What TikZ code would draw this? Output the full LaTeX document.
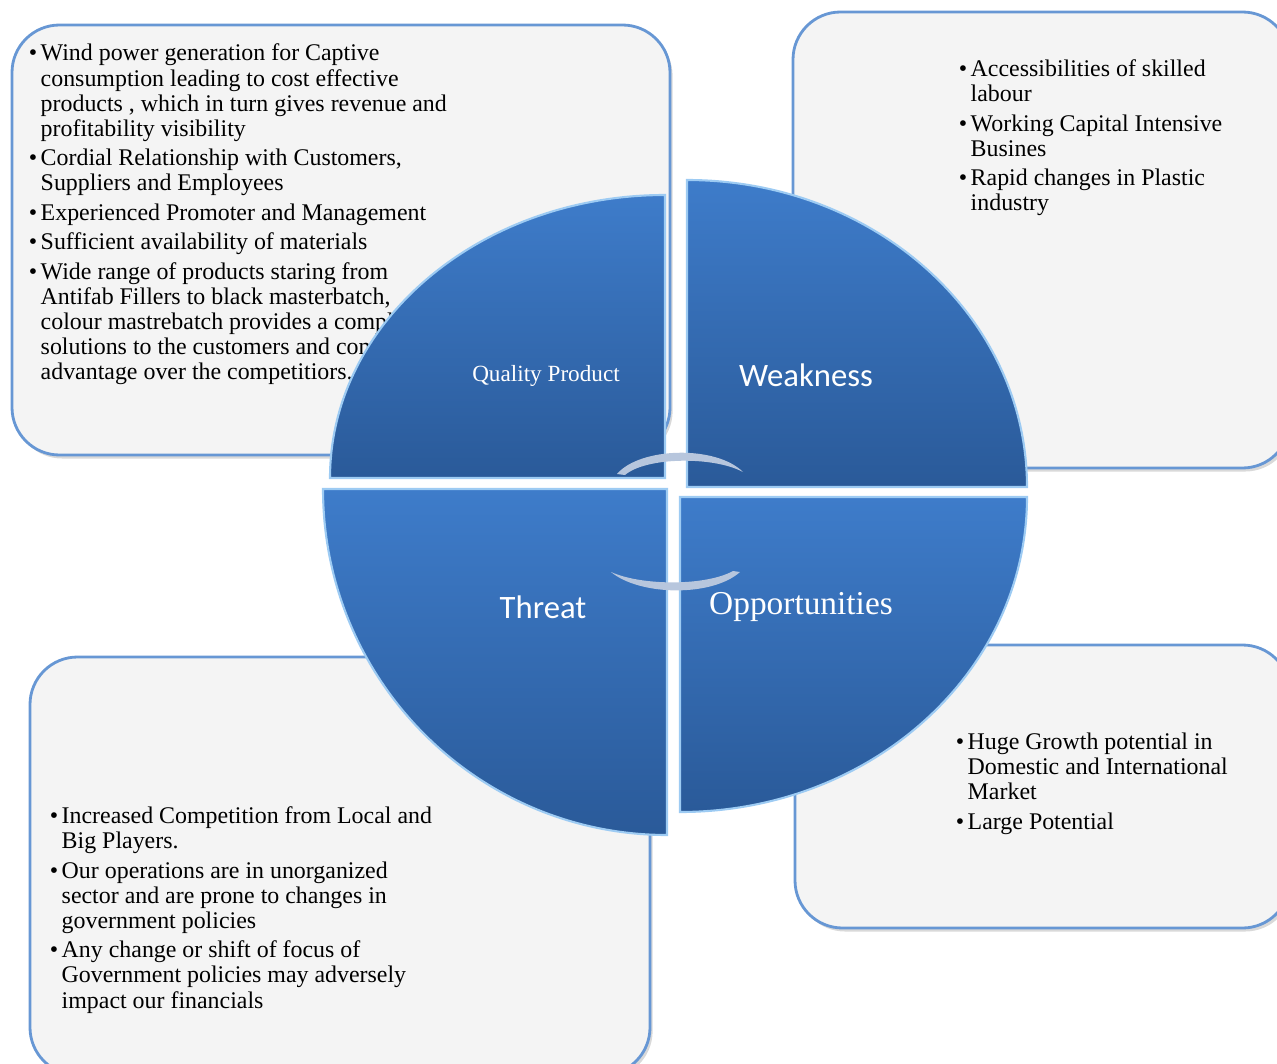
\documentclass[tikz,border=0pt]{standalone}
\usepackage{fontspec}
\setmainfont{Liberation Serif}
\newfontfamily\labelsans{Carlito}
\usetikzlibrary{shadows}

\definecolor{boxfill}{HTML}{F4F4F4}
\definecolor{boxline}{HTML}{6797D4}
\definecolor{segtop}{HTML}{3E7CCA}
\definecolor{segbottom}{HTML}{2A5A99}
\definecolor{segrim}{HTML}{9DCBF3}
\definecolor{arcgray}{HTML}{B7C6DD}

\newcommand{\listfont}{\fontsize{13.6}{14.3}\selectfont}

\begin{document}
\begin{tikzpicture}[x=0.02cm, y=-0.02cm,
	swotbox/.style={draw=boxline, line width=1.6pt, fill=boxfill, rounded corners=0.95cm,
		drop shadow={opacity=0.3, shadow xshift=1.5pt, shadow yshift=-2pt}},
	quarter/.style={draw=segrim, line width=1.2pt, top color=segtop, bottom color=segbottom},
	listtext/.style={anchor=north west, inner sep=0pt, font=\listfont, align=left},
	seglabel/.style={text=white, inner sep=0pt}]

	\useasboundingbox (0,0) rectangle (1277,1064);

	%Frames
	\draw[swotbox] (12,25) rectangle (670,455);
	\draw[swotbox] (793,12) rectangle (1290,468);
	\draw[swotbox] (795,645) rectangle (1290,928);
	\draw[swotbox] (30,657) rectangle (650,1075);

	%Lists
	%Strengths
	\node[listtext] (strengths) at (28.5,43) {%
		\begin{tabular}{@{}l@{\hspace{2pt}}l@{}}
		\textbullet & Wind power generation for Captive\\
		& consumption leading to cost effective\\
		& products , which in turn gives revenue and\\
		& profitability visibility\\[2.5pt]
		\textbullet & Cordial Relationship with Customers,\\
		& Suppliers and Employees\\[2.5pt]
		\textbullet & Experienced Promoter and Management\\[2.5pt]
		\textbullet & Sufficient availability of materials\\[2.5pt]
		\textbullet & Wide range of products staring from\\
		& Antifab Fillers to black masterbatch,\\
		& colour mastrebatch provides a complete\\
		& solutions to the customers and competitive\\
		& advantage over the competitiors.
		\end{tabular}};

	%Weaknesses
	\node[listtext] (weaknesses) at (958.5,58.5) {%
		\begin{tabular}{@{}l@{\hspace{2pt}}l@{}}
		\textbullet & Accessibilities of skilled\\
		& labour\\[2.5pt]
		\textbullet & Working Capital Intensive\\
		& Busines\\[2.5pt]
		\textbullet & Rapid changes in Plastic\\
		& industry
		\end{tabular}};

	%Opportunities
	\node[listtext] (chances) at (955.5,731.5) {%
		\begin{tabular}{@{}l@{\hspace{2pt}}l@{}}
		\textbullet & Huge Growth potential in\\
		& Domestic and International\\
		& Market\\[2.5pt]
		\textbullet & Large Potential
		\end{tabular}};

	%Threats
	\node[listtext] (threats) at (49.5,805.5) {%
		\begin{tabular}{@{}l@{\hspace{2pt}}l@{}}
		\textbullet & Increased Competition from Local and\\
		& Big Players.\\[2.5pt]
		\textbullet & Our operations are in unorganized\\
		& sector and are prone to changes in\\
		& government policies\\[2.5pt]
		\textbullet & Any change or shift of focus of\\
		& Government policies may adversely\\
		& impact our financials
		\end{tabular}};

	%Quarters
	%Top left
	\draw[quarter] (665,478) -- (330,478) .. controls (330,322) and (480,195) .. (665,195) -- cycle;
	%Top right
	\draw[quarter] (687,487) -- (687,180) .. controls (875,180) and (1027,317) .. (1027,487) -- cycle;
	%Bottom left
	\draw[quarter] (667,489) -- (323,489) .. controls (323,680) and (477,835) .. (667,835) -- cycle;
	%Bottom right
	\draw[quarter] (680,497) -- (1027,497) .. controls (1027,671) and (872,812) .. (680,812) -- cycle;

	%Labels
	\node[seglabel, font=\fontsize{13.2}{15}\selectfont] (quality) at (546,376) {Quality Product};
	\node[seglabel, font=\labelsans\fontsize{18.6}{21}\selectfont] (weak) at (806,375) {Weakness};
	\node[seglabel, font=\labelsans\fontsize{18.6}{21}\selectfont] (threat) at (543,607) {Threat};
	\node[seglabel, font=\fontsize{19}{21}\selectfont] (opport) at (801,607) {Opportunities};

	%Turning arcs
	\fill[arcgray] (617,474) .. controls (640,447) and (716,445) .. (743,472)
		.. controls (713,456) and (646,457) .. (625,475) -- cycle;
	\fill[arcgray] (611,572) .. controls (642,586) and (706,586) .. (733,571)
		-- (740,572) .. controls (712,597) and (640,596) .. (611,572) -- cycle;

\end{tikzpicture}
\end{document}
